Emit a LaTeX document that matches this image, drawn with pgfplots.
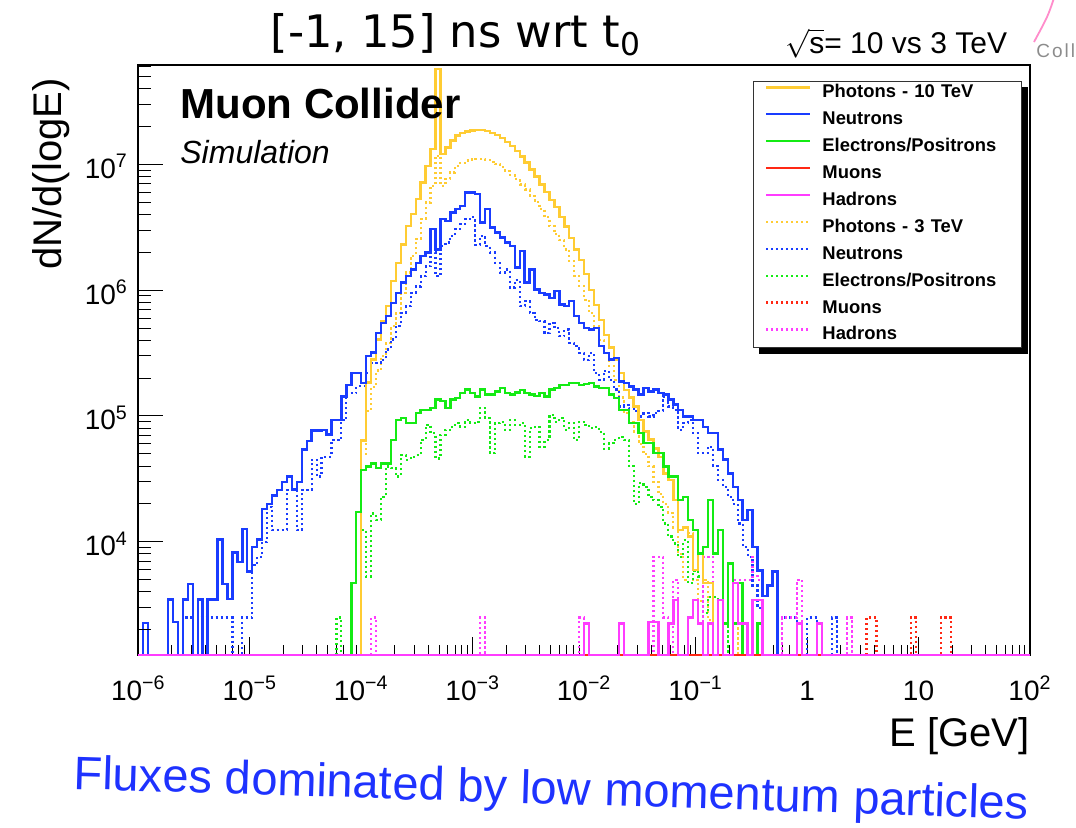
\documentclass[border=0pt]{standalone}
\usepackage{fontspec}
\setmainfont{Liberation Sans}
\newfontfamily\titlefont{DejaVu Sans}
\usepackage{pgfplots}
\pgfplotsset{compat=1.18}
\usepackage{pgfplotstable}
\usetikzlibrary{backgrounds}

\definecolor{cPhot}{RGB}{255,204,51}
\definecolor{cNeut}{RGB}{25,60,255}
\definecolor{cElec}{RGB}{20,235,20}
\definecolor{cMuon}{RGB}{255,40,20}
\definecolor{cHadr}{RGB}{255,60,255}
\definecolor{cNote}{RGB}{30,50,255}

% Histograms: bin = index of the lower bin edge (22.5 bins per decade from 1e-6 GeV),
% n = dN/d(logE); empty bins sit at the lower edge of the frame (1260).
% ---------- sqrt(s) = 10 TeV ----------
\pgfplotstableread[row sep=\\]{
bin n\\
44 1260\\ 45 6.4e4\\ 46 1.84e5\\ 47 2.8e5\\ 48 4.05e5\\ 49 5.66e5\\ 50 7.45e5\\ 51 1.18e6\\
52 1.65e6\\ 53 2.31e6\\ 54 3.24e6\\ 55 4.01e6\\ 56 5.28e6\\ 57 7.18e6\\ 58 9.73e6\\ 59 1.32e7\\
60 5.73e7\\ 61 1.21e7\\ 62 1.36e7\\ 63 1.54e7\\ 64 1.69e7\\ 65 1.77e7\\ 66 1.82e7\\ 67 1.85e7\\
68 1.87e7\\ 69 1.87e7\\ 70 1.84e7\\ 71 1.78e7\\ 72 1.70e7\\ 73 1.62e7\\ 74 1.50e7\\ 75 1.40e7\\
76 1.27e7\\ 77 1.15e7\\ 78 1.03e7\\ 79 9.1e6\\ 80 8.0e6\\ 81 6.9e6\\ 82 6.0e6\\ 83 5.2e6\\
84 4.6e6\\ 85 3.8e6\\ 86 3.2e6\\ 87 2.6e6\\ 88 2.1e6\\ 89 1.73e6\\ 90 1.35e6\\ 91 1.0e6\\
92 7.6e5\\ 93 5.8e5\\ 94 4.4e5\\ 95 3.5e5\\ 96 2.8e5\\ 97 2.2e5\\ 98 1.6e5\\ 99 1.4e5\\
100 1.19e5\\ 101 9.3e4\\ 102 7.5e4\\ 103 6.5e4\\ 104 5.5e4\\ 105 4.7e4\\ 106 3.5e4\\ 107 3.1e4\\
108 2.15e4\\ 109 1.24e4\\ 110 1.3e4\\ 111 1.1e4\\ 112 6.0e3\\ 113 8.0e3\\ 114 4.7e3\\ 115 4.7e3\\
116 1260\\
}\photA
\pgfplotstableread[row sep=\\]{
bin n\\
0 1260\\ 1 2260\\ 2 1260\\ 6 3480\\ 7 2300\\ 8 1260\\ 9 3480\\ 10 4600\\ 11 1260\\ 12 3480\\
13 1260\\ 14 3480\\ 16 1.04e4\\ 17 4600\\ 18 3500\\ 19 8200\\ 20 6900\\ 21 1.26e4\\ 22 5800\\
23 9100\\ 24 1.04e4\\ 25 1.82e4\\ 26 2.0e4\\ 27 2.33e4\\ 28 2.58e4\\ 29 3.0e4\\ 30 3.3e4\\
31 2.6e4\\ 32 3.0e4\\ 33 5.4e4\\ 34 6.3e4\\ 35 7.66e4\\ 37 7.76e4\\ 38 7.1e4\\ 39 9.3e4\\
41 1.43e5\\ 42 1.77e5\\ 43 2.2e5\\ 45 1.83e5\\ 46 2.98e5\\ 47 3.2e5\\ 48 4.57e5\\ 49 5.5e5\\
50 6.2e5\\ 51 7.9e5\\ 52 9.5e5\\ 53 1.15e6\\ 54 1.29e6\\ 55 1.46e6\\ 56 1.65e6\\ 57 1.87e6\\
58 1.99e6\\ 59 3.05e6\\ 60 2.11e6\\ 61 3.66e6\\ 62 3.55e6\\ 63 4.14e6\\ 64 4.4e6\\ 65 4.67e6\\
66 5.97e6\\ 68 5.8e6\\ 69 3.44e6\\ 70 4.4e6\\ 71 3.14e6\\ 72 2.86e6\\ 73 2.62e6\\ 74 2.39e6\\
75 2.24e6\\ 76 1.51e6\\ 77 2.05e6\\ 78 1.15e6\\ 79 1.46e6\\ 80 1.01e6\\ 81 9.5e5\\ 82 9.2e5\\
83 8.7e5\\ 84 9.8e5\\ 85 7.7e5\\ 86 7.5e5\\ 87 8.2e5\\ 88 6.2e5\\ 89 5.5e5\\ 90 5.0e5\\
91 4.86e5\\ 92 5.0e5\\ 93 3.58e5\\ 94 3.17e5\\ 95 2.8e5\\ 96 2.9e5\\ 97 1.88e5\\ 98 1.83e5\\
99 1.72e5\\ 100 1.62e5\\ 101 1.48e5\\ 102 1.67e5\\ 103 1.57e5\\ 104 1.62e5\\ 105 1.53e5\\
106 1.48e5\\ 107 1.35e5\\ 108 1.23e5\\ 109 1.12e5\\ 110 9.9e4\\ 112 9.3e4\\ 114 8.2e4\\
115 7.3e4\\ 117 5.4e4\\ 118 4.5e4\\ 119 3.5e4\\ 120 2.74e4\\ 121 2.15e4\\ 122 1.49e4\\
123 1.79e4\\ 124 9100\\ 125 5900\\ 126 3700\\ 127 4500\\ 128 5800\\ 129 1260\\
}\neutA
\pgfplotstableread[row sep=\\]{
bin n\\
42 1260\\ 43 4700\\ 44 1.73e4\\ 45 3.72e4\\ 46 3.96e4\\ 47 4.2e4\\ 48 3.84e4\\ 49 4.2e4\\
51 6.45e4\\ 52 9.3e4\\ 53 9.6e4\\ 54 8.8e4\\ 56 1.05e5\\ 57 1.12e5\\ 59 1.16e5\\ 60 1.35e5\\
61 1.31e5\\ 62 1.16e5\\ 63 1.35e5\\ 64 1.39e5\\ 65 1.52e5\\ 66 1.62e5\\ 67 1.52e5\\ 68 1.43e5\\
69 1.62e5\\ 70 1.48e5\\ 72 1.57e5\\ 73 1.67e5\\ 74 1.52e5\\ 75 1.48e5\\ 76 1.54e5\\ 77 1.6e5\\
78 1.52e5\\ 79 1.48e5\\ 80 1.44e5\\ 81 1.52e5\\ 82 1.43e5\\ 83 1.62e5\\ 84 1.67e5\\ 85 1.77e5\\
87 1.83e5\\ 89 1.77e5\\ 90 1.8e5\\ 91 1.83e5\\ 92 1.72e5\\ 93 1.67e5\\ 95 1.48e5\\ 96 1.39e5\\
97 1.12e5\\ 99 8.8e4\\ 101 7.3e4\\ 102 6.1e4\\ 104 5.06e4\\ 106 3.96e4\\ 107 3.3e4\\
109 2.15e4\\ 110 2.28e4\\ 111 1.49e4\\ 112 1.24e4\\ 113 8100\\ 114 9100\\ 115 2.15e4\\
116 8100\\ 117 1.24e4\\ 118 2240\\ 119 6700\\ 120 2240\\ 121 4700\\ 122 1260\\ 125 2240\\
126 1260\\
}\elecA
\pgfplotstableread[row sep=\\]{
bin n\\
0 1260\\ 180 1260\\
}\muonA
\pgfplotstableread[row sep=\\]{
bin n\\
0 1260\\ 90 2240\\ 91 1260\\ 97 2240\\ 98 1260\\ 103 2300\\ 105 1260\\ 107 2240\\ 108 3430\\
109 1260\\ 111 2500\\ 112 3430\\ 113 2240\\ 114 1260\\ 115 2240\\ 116 1260\\ 117 3430\\
118 1260\\ 120 4700\\ 121 2240\\ 123 1260\\ 124 3430\\ 126 1260\\ 133 2240\\ 134 1260\\
137 2240\\ 138 1260\\ 180 1260\\
}\hadrA
% ---------- sqrt(s) = 3 TeV ----------
\pgfplotstableread[row sep=\\]{
bin n\\
44 1260\\ 45 5e4\\ 46 1.1e5\\ 47 1.7e5\\ 48 2.3e5\\ 49 3.0e5\\ 50 3.81e5\\ 51 5.16e5\\
52 6.6e5\\ 53 9.5e5\\ 54 1.38e6\\ 55 1.87e6\\ 56 2.54e6\\ 57 3.66e6\\ 58 4.97e6\\ 59 6.74e6\\
60 1.17e7\\ 61 6.74e6\\ 62 7.62e6\\ 63 8.6e6\\ 64 9.7e6\\ 65 1.03e7\\ 66 1.07e7\\ 67 1.09e7\\
68 1.10e7\\ 70 1.08e7\\ 71 1.05e7\\ 72 1.0e7\\ 73 9.5e6\\ 74 8.8e6\\ 75 8.2e6\\ 76 7.6e6\\
77 6.9e6\\ 78 6.3e6\\ 79 5.6e6\\ 80 5.0e6\\ 81 4.4e6\\ 82 3.8e6\\ 83 3.24e6\\ 84 2.8e6\\
85 2.5e6\\ 86 2.1e6\\ 87 1.7e6\\ 88 1.3e6\\ 89 1.08e6\\ 90 8.4e5\\ 91 6.6e5\\ 92 5.2e5\\
93 4.0e5\\ 94 3.15e5\\ 95 2.48e5\\ 96 1.94e5\\ 97 1.4e5\\ 98 1.05e5\\ 99 9.0e4\\ 100 7.5e4\\
101 6.0e4\\ 102 5.0e4\\ 103 4.0e4\\ 104 3.0e4\\ 105 2.4e4\\ 106 2.0e4\\ 107 1.7e4\\
108 1.3e4\\ 109 8.0e3\\ 110 5.0e3\\ 111 1.17e4\\ 112 5.0e3\\ 113 3.4e3\\ 114 5.0e3\\
115 2.4e3\\ 116 1260\\ 120 4700\\ 121 1260\\
}\photB
\pgfplotstableread[row sep=\\]{
bin n\\
8 1260\\ 9 2500\\ 11 1260\\ 12 2500\\ 19 1260\\ 21 2500\\ 23 6500\\ 24 7600\\ 25 1.0e4\\
26 1.9e4\\ 27 1.24e4\\ 30 2.58e4\\ 32 1.24e4\\ 33 2.58e4\\ 35 4.5e4\\ 36 3.3e4\\ 37 4.75e4\\
39 6.45e4\\ 41 9.3e4\\ 42 1.52e5\\ 44 1.72e5\\ 46 2.2e5\\ 47 2.64e5\\ 49 2.8e5\\ 50 3.37e5\\
51 4.05e5\\ 52 5.2e5\\ 53 6.6e5\\ 54 7.45e5\\ 55 9.5e5\\ 56 1.07e6\\ 57 1.29e6\\ 58 1.55e6\\
59 1.99e6\\ 60 1.29e6\\ 61 2.24e6\\ 62 2.39e6\\ 63 2.71e6\\ 64 3.05e6\\ 65 3.34e6\\ 66 3.66e6\\
67 3.8e6\\ 68 2.3e6\\ 69 2.71e6\\ 70 2.24e6\\ 71 1.99e6\\ 72 1.65e6\\ 73 1.38e6\\ 74 1.46e6\\
75 1.05e6\\ 76 1.2e6\\ 77 7.45e5\\ 78 8.2e5\\ 79 6.6e5\\ 80 5.8e5\\ 81 5.66e5\\ 82 4.57e5\\
83 5.5e5\\ 84 5.0e5\\ 85 4.3e5\\ 86 4.86e5\\ 87 3.81e5\\ 88 3.58e5\\ 89 3.17e5\\ 90 2.8e5\\
91 3.17e5\\ 92 2.2e5\\ 93 1.94e5\\ 94 2.29e5\\ 95 1.94e5\\ 96 1.62e5\\ 97 1.19e5\\ 98 1.23e5\\
99 1.15e5\\ 100 1.09e5\\ 101 9.9e4\\ 102 1.05e5\\ 103 9.9e4\\ 104 1.05e5\\ 105 1.09e5\\
106 1.43e5\\ 107 1.19e5\\ 108 1.12e5\\ 109 7.76e4\\ 110 8.8e4\\ 111 9.3e4\\ 112 7.3e4\\
113 5.06e4\\ 115 5.7e4\\ 116 4.0e4\\ 117 3.1e4\\ 118 2.74e4\\ 119 2.28e4\\ 120 2.0e4\\
121 1.4e4\\ 122 9100\\ 123 7600\\ 124 4500\\ 125 3000\\ 126 1260\\ 130 2500\\ 133 1260\\
135 2500\\ 137 1260\\ 140 2500\\ 141 1260\\
}\neutB
\pgfplotstableread[row sep=\\]{
bin n\\
39 1260\\ 40 2500\\ 41 1260\\ 45 1.24e4\\ 46 5300\\ 47 1.68e4\\ 48 1.49e4\\ 49 2.28e4\\
50 3.96e4\\ 51 3.84e4\\ 52 3.3e4\\ 53 4.89e4\\ 54 4.5e4\\ 55 4.75e4\\ 56 4.89e4\\ 57 6.45e4\\
58 8.5e4\\ 59 7.3e4\\ 60 4.6e4\\ 61 7.1e4\\ 62 7.76e4\\ 63 8.2e4\\ 64 8.8e4\\ 65 8.2e4\\
66 9.3e4\\ 67 8.8e4\\ 68 9.0e4\\ 69 1.16e5\\ 70 9.6e4\\ 71 5.06e4\\ 72 8.8e4\\ 73 9.0e4\\
74 7.76e4\\ 75 9.3e4\\ 76 8.5e4\\ 77 8.8e4\\ 78 4.75e4\\ 79 8.0e4\\ 80 8.2e4\\ 81 5.7e4\\
82 6.45e4\\ 83 1.02e5\\ 84 9.0e4\\ 85 9.6e4\\ 86 7.76e4\\ 87 8.8e4\\ 88 6.45e4\\ 89 9.0e4\\
90 8.5e4\\ 91 8.0e4\\ 92 8.2e4\\ 93 7.5e4\\ 94 5.5e4\\ 95 6.1e4\\ 96 6.45e4\\ 97 6.8e4\\
98 6.45e4\\ 99 4.0e4\\ 100 2.0e4\\ 101 2.92e4\\ 102 2.74e4\\ 103 2.28e4\\ 104 2.15e4\\
105 1.9e4\\ 106 1.4e4\\ 107 1.1e4\\ 108 9700\\ 109 7600\\ 110 1.03e4\\ 111 4700\\ 112 5900\\
113 5300\\ 114 2700\\ 115 3650\\ 117 1260\\ 118 2240\\ 119 1260\\
}\elecB
\pgfplotstableread[row sep=\\]{
bin n\\
146 1260\\ 147 2500\\ 149 1260\\ 156 2500\\ 157 1260\\ 162 2500\\ 164 1260\\
}\muonB
\pgfplotstableread[row sep=\\]{
bin n\\
46 1260\\ 47 2500\\ 48 1260\\ 69 2500\\ 70 1260\\ 89 2500\\ 90 1260\\ 104 7600\\ 106 2500\\
107 1260\\ 108 4950\\ 109 1260\\ 114 7600\\ 116 1260\\ 120 5000\\ 124 7600\\ 125 5000\\
126 1260\\ 130 2500\\ 133 5000\\ 134 1260\\ 143 2500\\ 144 1260\\
}\hadrB

\newcommand{\hist}[2]{\addplot[const plot, forget plot, #1]
  table[x expr={10^(\thisrow{bin}/22.5-6)}, y=n] {#2};}

\pgfplotsset{
  tenTeV/.style={line width=1.2pt},
  threeTeV/.style={line width=1.1pt, dash pattern=on 1.1pt off 1.4pt},
  fluxbox/.style={
    at={(69.15pt,-327.5pt)}, anchor=south west,
    width=445.85pt, height=295pt, scale only axis,
    xmin=1e-6, xmax=1e2, ymin=1260, ymax=6.15e7,
    axis line style={line width=1pt},
    tick pos=left, tick align=inside,
    tick style={line width=0.5pt, black},
    tick label style={font=\fontsize{14}{16}\selectfont},
  },
}

\begin{document}
\begin{tikzpicture}
\useasboundingbox (0,0) rectangle (538pt,-413.5pt);

% energy axis, histograms and legend
\begin{axis}[xmode=log, ymode=log, fluxbox,
  clip=false,
  major tick length=9pt, minor tick length=5pt,
  xtick={1e-6,1e-5,1e-4,1e-3,1e-2,1e-1,1,10,100},
  xticklabels={10\textsuperscript{−6},10\textsuperscript{−5},10\textsuperscript{−4},
    10\textsuperscript{−3},10\textsuperscript{−2},10\textsuperscript{−1},1,10,10\textsuperscript{2}},
  minor xtick={2e-6,3e-6,4e-6,5e-6,6e-6,7e-6,8e-6,9e-6,
    2e-5,3e-5,4e-5,5e-5,6e-5,7e-5,8e-5,9e-5,
    2e-4,3e-4,4e-4,5e-4,6e-4,7e-4,8e-4,9e-4,
    2e-3,3e-3,4e-3,5e-3,6e-3,7e-3,8e-3,9e-3,
    2e-2,3e-2,4e-2,5e-2,6e-2,7e-2,8e-2,9e-2,
    0.2,0.3,0.4,0.5,0.6,0.7,0.8,0.9,2,3,4,5,6,7,8,9,
    20,30,40,50,60,70,80,90},
  ymajorticks=false, yminorticks=false,
  xticklabel style={anchor=base, inner sep=0pt, yshift=-22.5pt},
  xlabel={E [GeV]},
  xlabel style={at={(axis description cs:1,-0.155)}, anchor=base east,
    inner sep=0pt, font=\fontsize{20}{24}\selectfont},
  legend image code/.code={\draw[#1] (0pt,3pt) -- (22pt,3pt);},
  legend cell align=left,
  legend style={
    name=fluxlegend,
    at={(axis description cs:0.991,0.973)}, anchor=north east,
    draw=black!80, line width=0.5pt, fill=white,
    font=\bfseries\fontsize{9.2}{11}\selectfont,
    inner xsep=6pt, inner ysep=1.7pt,
    row sep=4.95pt, column sep=5.5pt,
    nodes={inner sep=0pt, text height=6.5pt, text depth=2pt},
    /tikz/column 2/.style={text width=93.5pt},
  },
]
\addlegendimage{cPhot, tenTeV}\addlegendentry{Photons - 10 TeV}
\addlegendimage{cNeut, tenTeV}\addlegendentry{Neutrons}
\addlegendimage{cElec, tenTeV}\addlegendentry{Electrons/Positrons}
\addlegendimage{cMuon, tenTeV}\addlegendentry{Muons}
\addlegendimage{cHadr, tenTeV}\addlegendentry{Hadrons}
\addlegendimage{cPhot, threeTeV}\addlegendentry{Photons - 3 TeV}
\addlegendimage{cNeut, threeTeV}\addlegendentry{Neutrons}
\addlegendimage{cElec, threeTeV}\addlegendentry{Electrons/Positrons}
\addlegendimage{cMuon, threeTeV}\addlegendentry{Muons}
\addlegendimage{cHadr, threeTeV}\addlegendentry{Hadrons}

\hist{cPhot, threeTeV}{\photB}
\hist{cNeut, threeTeV}{\neutB}
\hist{cElec, threeTeV}{\elecB}
\hist{cMuon, threeTeV}{\muonB}
\hist{cHadr, threeTeV}{\hadrB}
\hist{cPhot, tenTeV}{\photA}
\hist{cNeut, tenTeV}{\neutA}
\hist{cElec, tenTeV}{\elecA}
\hist{cMuon, tenTeV}{\muonA}
\hist{cHadr, tenTeV}{\hadrA}
\end{axis}

% legend shadow
\begin{scope}[on background layer]
\fill[black] ([shift={(3pt,-3pt)}]fluxlegend.south west) rectangle ([shift={(3pt,-3pt)}]fluxlegend.north east);
\end{scope}

% flux axis (longer ticks on the vertical side; the frame is drawn by the axis above)
\begin{axis}[xmode=log, ymode=log, fluxbox,
  axis line style={draw=none},
  major tick length=12.5pt, minor tick length=6.5pt,
  xmajorticks=false, xminorticks=false,
  ytick={1e4,1e5,1e6,1e7},
  yticklabels={10\textsuperscript{4},10\textsuperscript{5},10\textsuperscript{6},10\textsuperscript{7}},
  minor ytick={2000,3000,4000,5000,6000,7000,8000,9000,
    2e4,3e4,4e4,5e4,6e4,7e4,8e4,9e4,
    2e5,3e5,4e5,5e5,6e5,7e5,8e5,9e5,
    2e6,3e6,4e6,5e6,6e6,7e6,8e6,9e6,
    2e7,3e7,4e7,5e7,6e7},
  yticklabel style={anchor=base east, inner sep=0pt, xshift=-5pt, yshift=-7pt},
  ylabel={dN/d(logE)},
  ylabel style={at={(axis description cs:-0.0856,0.978)}, anchor=base east,
    inner sep=0pt, font=\fontsize{20}{24}\selectfont},
]
\end{axis}

% headings and notes
\node[anchor=base, inner sep=0pt, font=\titlefont\fontsize{22.4}{27}\selectfont]
  at (228pt,-23.5pt) {[-1, 15] ns wrt t\textsubscript{0}};
\node[anchor=base west, inner sep=0pt, font=\fontsize{15}{18}\selectfont]
  at (392.5pt,-26.5pt) {$\sqrt{\mbox{s}}$= 10 vs 3 TeV};
\node[anchor=base west, inner sep=0pt, font=\bfseries\fontsize{21}{25}\selectfont]
  at (90pt,-59pt) {Muon Collider};
\node[anchor=base west, inner sep=0pt, font=\itshape\fontsize{16}{19}\selectfont]
  at (90pt,-81.5pt) {Simulation};
% slanted remark, set word group by word group along one baseline
\tikzset{remark/.style={anchor=base west, inner sep=0pt, rotate=-1.8, text=cNote,
  font=\fontsize{23.5}{28}\selectfont}}
\node[remark] (remarkA) at (36.6pt,-394.5pt) {Fluxes dominated by low};
\node[remark] (remarkB) at (remarkA.base east) {\ momentum};
\node[remark] at (remarkB.base east) {\ particles};

% corner logo fragment
\draw[red!45!magenta!45, line width=0.9pt] (527pt,1pt) .. controls (524pt,-8pt) .. (517pt,-21pt);
\node[anchor=base west, inner sep=0pt, text=black!45, font=\fontsize{9.5}{11}\selectfont]
  at (518pt,-28.5pt) {C\kern1pt o\kern1pt l\kern1pt l};
\end{tikzpicture}
\end{document}
